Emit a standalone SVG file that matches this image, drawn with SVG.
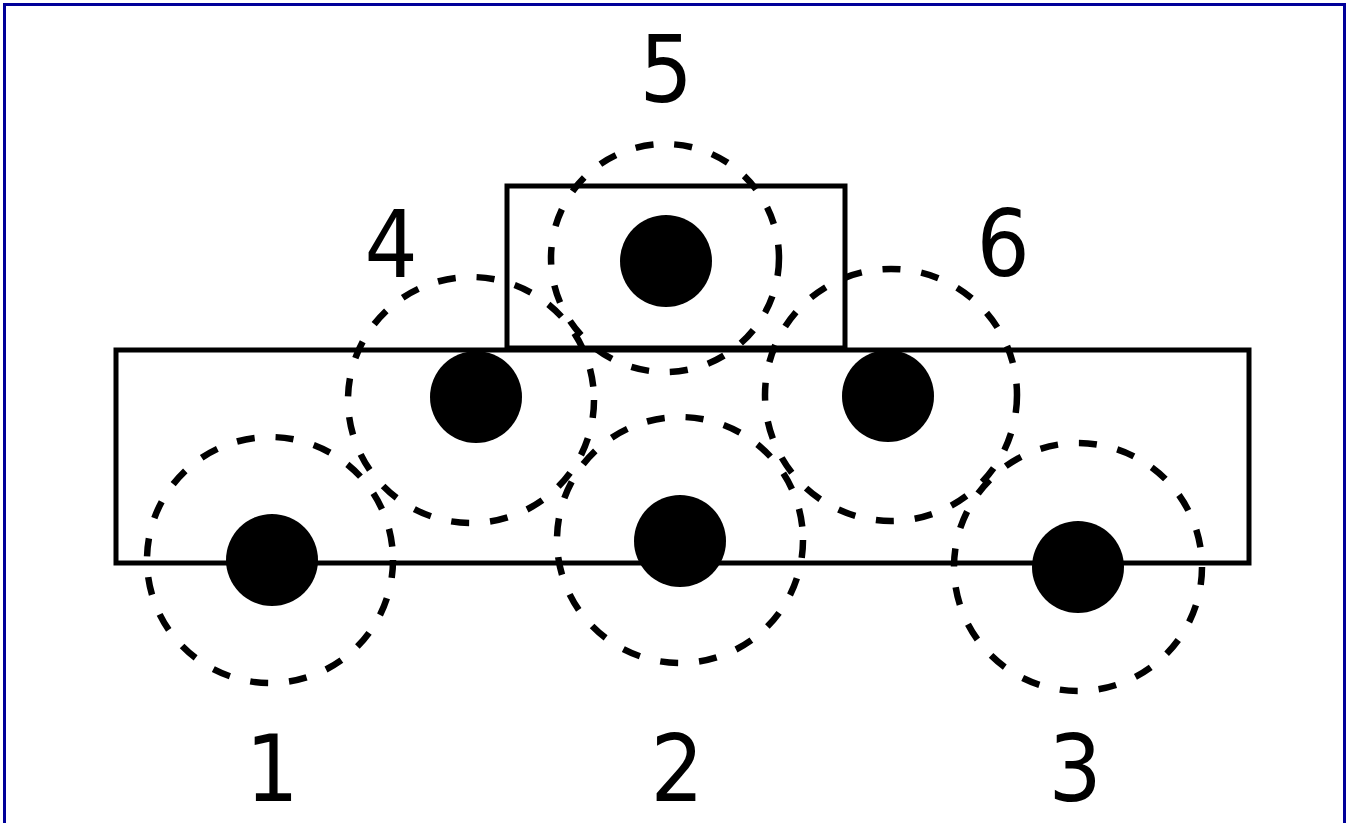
<svg xmlns="http://www.w3.org/2000/svg" width="1349" height="823" viewBox="0 0 1349 823">
<style>
.frame{fill:none;stroke:#000099;stroke-width:3}
.box{fill:none;stroke:#000;stroke-width:5}
.dot{fill:#000}
.ring{fill:none;stroke:#000;stroke-width:6.5;stroke-dasharray:18 21}
.lbl{font-family:"DejaVu Sans Condensed","DejaVu Sans","Liberation Sans",sans-serif;font-stretch:condensed;font-size:93px;fill:#000;text-anchor:middle}
</style>
<rect x="0" y="0" width="1349" height="823" fill="#fff"/>
<rect class="frame" x="4.5" y="4.5" width="1340" height="840"/>
<g id="base">
<rect class="box" x="116" y="350" width="1133" height="213"/>
<rect class="box" x="507" y="186" width="338" height="162" fill="#fff"/>
</g>
<g id="node1"><circle class="ring" cx="270" cy="560" r="123"/><circle class="dot" cx="272" cy="560" r="46"/><text class="lbl" x="272" y="801">1</text></g>
<g id="node2"><circle class="ring" cx="680" cy="540" r="123"/><circle class="dot" cx="680" cy="541" r="46"/><text class="lbl" x="677" y="801">2</text></g>
<g id="node3"><circle class="ring" cx="1078" cy="567" r="124"/><circle class="dot" cx="1078" cy="567" r="46"/><text class="lbl" x="1075" y="801">3</text></g>
<g id="node4"><circle class="ring" cx="471" cy="400" r="123"/><circle class="dot" cx="476" cy="397" r="46"/><text class="lbl" x="391" y="277">4</text></g>
<g id="node5"><circle class="ring" cx="665" cy="258" r="114"/><circle class="dot" cx="666" cy="261" r="46"/><text class="lbl" x="666" y="102">5</text></g>
<g id="node6"><circle class="ring" cx="891" cy="395" r="126"/><circle class="dot" cx="888" cy="396" r="46"/><text class="lbl" x="1003" y="276">6</text></g>
<g id="connectors"/>
</svg>
